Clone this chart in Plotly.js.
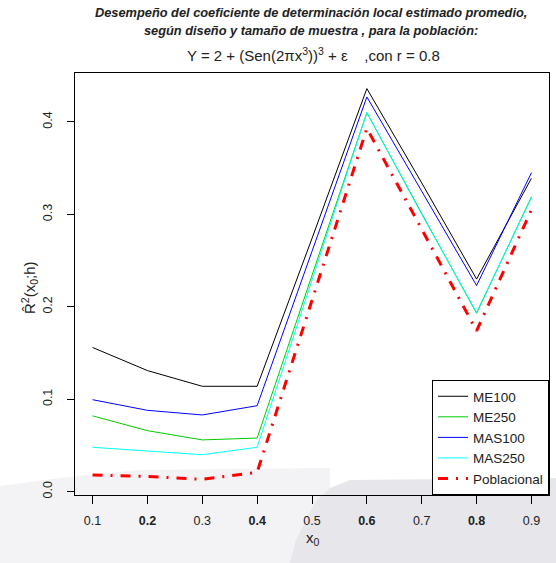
<!DOCTYPE html>
<html>
<head>
<meta charset="utf-8">
<script src="https://cdn.plot.ly/plotly-3.0.1.min.js"></script>
<style>html,body{margin:0;padding:0;background:#fff;}#chart{width:556px;height:563px;}</style>
</head>
<body>
<div id="chart"></div>
<script>
// ---- data ----
const x0 = [0.1, 0.2, 0.3, 0.4, 0.5, 0.6, 0.7, 0.8, 0.9];
const ME100 = [0.156, 0.131, 0.114, 0.114, 0.274, 0.436, 0.334, 0.230, 0.339];
const ME250 = [0.082, 0.066, 0.056, 0.058, 0.234, 0.410, 0.301, 0.193, 0.319];
const MAS100 = [0.0995, 0.088, 0.083, 0.093, 0.260, 0.427, 0.325, 0.223, 0.345];
const MAS250 = [0.048, 0.044, 0.040, 0.048, 0.229, 0.410, 0.300, 0.194, 0.318];
const Poblacional = [0.018, 0.0165, 0.0133, 0.021, 0.207, 0.393, 0.284, 0.174, 0.305];
const seriesNames = ["ME100", "ME250", "MAS100", "MAS250", "Poblacional"];
const xTickVals = [0.1, 0.2, 0.3, 0.4, 0.5, 0.6, 0.7, 0.8, 0.9];
const xTickText = ["0.1", "<b>0.2</b>", "0.3", "<b>0.4</b>", "0.5", "<b>0.6</b>", "0.7", "<b>0.8</b>", "0.9"];
const yTickVals = [0.0, 0.1, 0.2, 0.3, 0.4];
const yTickText = ["0.0", "0.1", "0.2", "0.3", "0.4"];

const seriesData = [ME100, ME250, MAS100, MAS250, Poblacional];
const colors = ["#000000", "#00CD00", "#0000FF", "#00FFFF", "#FF0000"];
const widths = [1, 1, 1, 1, 3];
const dashes = ["solid", "solid", "solid", "solid", "10px,8px,2px,8px"];

const traces = seriesData.map((d, i) => ({
  x: x0, y: d, type: "scatter", mode: "lines", name: seriesNames[i],
  line: {color: colors[i], width: widths[i], dash: dashes[i]}
}));

// plot area in pixels: x 75..549, y 73..495
const L = 75, R = 549, T = 73, B = 495;
const px = v => (v - L) / (R - L);
const py = v => (B - v) / (B - T);
function poly(pts) {
  return "M" + pts.map(p => px(p[0]).toFixed(4) + "," + py(p[1]).toFixed(4)).join(" L") + " Z";
}

const font = "Liberation Sans, Arial, sans-serif";
const layout = {
  width: 556, height: 563,
  margin: {l: L, r: 556 - R, t: T, b: 563 - B, pad: 0},
  paper_bgcolor: "#ffffff", plot_bgcolor: "rgba(0,0,0,0)",
  showlegend: true,
  font: {family: font, color: "#222222", size: 12},
  xaxis: {
    range: [0.068, 0.932], tickvals: xTickVals, ticktext: xTickText,
    ticks: "outside", ticklen: 8, tickcolor: "#000", tickwidth: 1,
    showline: true, mirror: true, linecolor: "#000", linewidth: 1,
    showgrid: false, zeroline: false, tickangle: 0, ticklabelstandoff: 6,
    tickfont: {size: 12.5, color: "#222"}
  },
  yaxis: {
    range: [-0.0036, 0.4529], tickvals: yTickVals, ticktext: yTickText,
    ticks: "outside", ticklen: 7, tickcolor: "#000", tickwidth: 1,
    showline: true, mirror: true, linecolor: "#000", linewidth: 1,
    showgrid: false, zeroline: false, tickangle: -90, ticklabelstandoff: 10,
    tickfont: {size: 12.5, color: "#222"}
  },
  legend: {
    x: 1, xanchor: "right", y: 0, yanchor: "bottom",
    bgcolor: "#ffffff", bordercolor: "#000", borderwidth: 1,
    font: {size: 13.5, color: "#222"}, traceorder: "normal", itemwidth: 30,
    tracegroupgap: 0
  },
  shapes: [
    {type: "path", xref: "paper", yref: "paper", layer: "below", line: {width: 0}, fillcolor: "#f3f3f6",
     path: poly([[0, 486], [60, 478], [140, 470], [330, 468], [330, 563], [0, 563]])},
    {type: "path", xref: "paper", yref: "paper", layer: "below", line: {width: 0}, fillcolor: "#e6e6eb",
     path: poly([[350, 480], [556, 478], [556, 563], [290, 563], [296, 540], [315, 502], [330, 488]])}
  ],
  annotations: [
    {xref: "paper", yref: "paper", x: px(311), y: py(12), xanchor: "center", yanchor: "middle", showarrow: false,
     text: "<b><i>Desempeño del coeficiente de determinación local estimado promedio,</i></b>",
     font: {size: 12.8, color: "#222"}},
    {xref: "paper", yref: "paper", x: px(311), y: py(31), xanchor: "center", yanchor: "middle", showarrow: false,
     text: "<b><i>según diseño y tamaño de muestra , para la población:</i></b>",
     font: {size: 12.8, color: "#222"}},
    {xref: "paper", yref: "paper", x: px(313), y: py(55), xanchor: "center", yanchor: "middle", showarrow: false,
     text: "Y = 2 + (Sen(2πx<sup>3</sup>))<sup>3</sup> + ε    ,con r = 0.8",
     font: {size: 15, color: "#222"}},
    {xref: "paper", yref: "paper", x: px(313), y: py(538), xanchor: "center", yanchor: "middle", showarrow: false,
     text: "x<sub>0</sub>", font: {size: 15, color: "#222"}},
    {xref: "paper", yref: "paper", x: px(29), y: py(288), xanchor: "center", yanchor: "middle", showarrow: false,
     textangle: -90, text: "R\u0302<sup>2</sup>(x<sub>0</sub>;h)", font: {size: 15, color: "#222"}}
  ]
};

Plotly.newPlot("chart", traces, layout, {displayModeBar: false, staticPlot: true});
</script>
</body>
</html>
